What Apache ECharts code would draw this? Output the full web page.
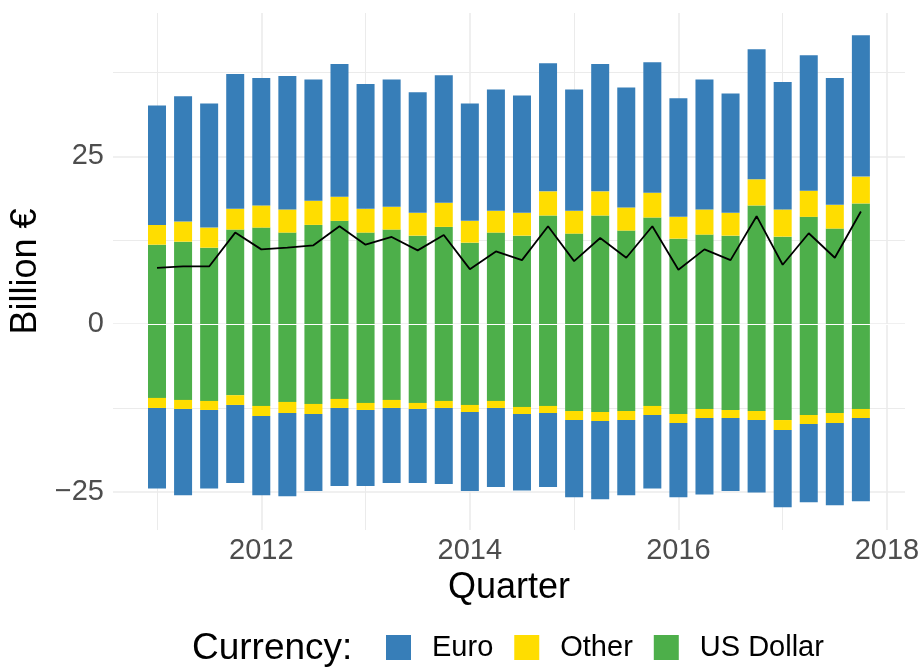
<!DOCTYPE html>
<html>
<head>
<meta charset="utf-8">
<script src="https://cdn.jsdelivr.net/npm/echarts@6/dist/echarts.min.js"></script>
<style>
  html, body { margin: 0; padding: 0; background: #fff; }
  #chart { width: 918px; height: 668px; }
</style>
</head>
<body>
<div id="chart"></div>
<script>
// quarters as decimal years
const quarters = [2011, 2011.25, 2011.5, 2011.75, 2012, 2012.25, 2012.5, 2012.75,
  2013, 2013.25, 2013.5, 2013.75, 2014, 2014.25, 2014.5, 2014.75,
  2015, 2015.25, 2015.5, 2015.75, 2016, 2016.25, 2016.5, 2016.75,
  2017, 2017.25, 2017.5, 2017.75];

// positive side (billion €)
const usdPos = [11.85, 12.3, 11.4, 14.1, 14.4, 13.65, 14.8, 15.4, 13.65, 14.1, 13.2, 14.5,
  12.15, 13.65, 13.2, 16.2, 13.5, 16.2, 13.95, 15.9, 12.75, 13.35, 13.2, 17.7,
  13.05, 16.0, 14.25, 18.0];
const otherPos = [2.95, 3.0, 3.0, 3.1, 3.3, 3.45, 3.6, 3.6, 3.55, 3.4, 3.4, 3.6,
  3.25, 3.25, 3.4, 3.6, 3.4, 3.6, 3.45, 3.7, 3.25, 3.75, 3.4, 3.9,
  4.05, 3.9, 3.55, 4.0];
const euroPos = [17.8, 18.7, 18.5, 20.1, 19.0, 19.9, 18.1, 19.8, 18.6, 19.0, 18.0, 19.0,
  17.5, 18.1, 17.5, 19.1, 18.1, 19.0, 17.9, 19.45, 17.7, 19.4, 17.8, 19.4,
  19.0, 20.2, 18.9, 21.1];

// negative side (billion €)
const usdNeg = [-11.0, -11.3, -11.45, -10.6, -12.2, -11.6, -11.9, -11.15, -11.75, -11.3, -11.75, -11.45,
  -12.05, -11.45, -12.35, -12.2, -12.95, -13.1, -12.95, -12.2, -13.4, -12.65, -12.8, -12.95,
  -14.3, -13.55, -13.25, -12.65];
const otherNeg = [-1.5, -1.35, -1.35, -1.45, -1.5, -1.65, -1.5, -1.35, -1.05, -1.2, -0.9, -1.05,
  -1.05, -1.05, -1.05, -1.05, -1.35, -1.35, -1.35, -1.35, -1.35, -1.35, -1.2, -1.35,
  -1.5, -1.35, -1.5, -1.35];
const euroNeg = [-12.0, -12.85, -11.7, -11.65, -11.8, -12.4, -11.5, -11.65, -11.35, -11.2, -11.05, -11.35,
  -11.8, -11.8, -11.4, -11.05, -11.5, -11.65, -11.2, -10.95, -11.05, -11.4, -10.9, -10.8,
  -11.5, -11.65, -12.25, -12.4];

// net position line
const netLine = [8.4, 8.6, 8.6, 13.65, 11.15, 11.4, 11.75, 14.6, 11.85, 13.0, 11.0, 13.3,
  8.2, 10.85, 9.55, 14.6, 9.4, 12.85, 9.9, 14.6, 8.1, 11.15, 9.55, 16.1,
  8.85, 13.55, 9.9, 16.8];

const xMajor = [2012, 2014, 2016, 2018];
const xMinor = [2011, 2013, 2015, 2017];
const yMajor = [-25, 0, 25];
const yMinor = [-12.5, 12.5, 37.5];

const colors = { euro: '#377EB8', other: '#FFDD00', usd: '#4DAF4A' };
const font = '"Liberation Sans", Arial, Helvetica, sans-serif';

// value first so the stack runs on y (x is a value axis too)
const barData = (vals) => quarters.map((q, i) => [vals[i], q]);

const barSeries = (name, vals, color) => ({
  name: name,
  type: 'bar',
  stack: 'total',
  barWidth: 18,
  xAxisIndex: 0,
  yAxisIndex: 0,
  encode: { x: 1, y: 0 },
  itemStyle: { color: color },
  emphasis: { disabled: true },
  data: barData(vals)
});

const chart = echarts.init(document.getElementById('chart'), null, { renderer: 'canvas' });

const xRange = { min: 2010.578, max: 2018.173 };
const yRange = { min: -30.7, max: 46.4 };

const option = {
  animation: false,
  textStyle: { fontFamily: font },
  title: {
    text: 'Currency:',
    left: 192,
    top: 630,
    padding: 0,
    textStyle: { fontSize: 37, fontWeight: 'normal', color: '#000', fontFamily: font }
  },
  legend: {
    data: ['Euro', 'Other', 'US Dollar'],
    left: 386,
    top: 633,
    padding: 0,
    itemWidth: 25,
    itemHeight: 25,
    itemGap: 21,
    icon: 'rect',
    textStyle: { fontSize: 29, color: '#000', fontFamily: font, padding: [0, 0, 0, 16] }
  },
  grid: { left: 113, right: 13, top: 13, bottom: 138, containLabel: false, outerBoundsMode: 'none' },
  xAxis: [{
    type: 'value',
    min: xRange.min,
    max: xRange.max,
    name: 'Quarter',
    nameLocation: 'middle',
    nameGap: 37,
    nameTextStyle: { fontSize: 36, color: '#000', fontFamily: font },
    axisLine: { show: false },
    axisTick: { show: false, customValues: xMajor },
    axisLabel: {
      customValues: xMajor,
      fontSize: 29,
      color: '#4D4D4D',
      margin: 6,
      fontFamily: font,
      formatter: (v) => String(v)
    },
    splitLine: { show: true, lineStyle: { color: '#EBEBEB', width: 1.6 } }
  }, {
    type: 'value',
    min: xRange.min,
    max: xRange.max,
    axisLine: { show: false },
    axisTick: { show: false, customValues: xMinor },
    axisLabel: { show: false, customValues: xMinor },
    splitLine: { show: true, lineStyle: { color: '#EBEBEB', width: 1 } }
  }],
  yAxis: [{
    type: 'value',
    min: yRange.min,
    max: yRange.max,
    name: 'Billion €',
    nameLocation: 'middle',
    nameGap: 61,
    nameRotate: 90,
    nameTextStyle: { fontSize: 36, color: '#000', fontFamily: font },
    axisLine: { show: false },
    axisTick: { show: false, customValues: yMajor },
    axisLabel: {
      customValues: yMajor,
      fontSize: 29,
      color: '#4D4D4D',
      margin: 9,
      fontFamily: font,
      formatter: (v) => (v < 0 ? '\u2212' + Math.abs(v) : String(v))
    },
    splitLine: { show: true, lineStyle: { color: '#EBEBEB', width: 1.6 } }
  }, {
    type: 'value',
    min: yRange.min,
    max: yRange.max,
    axisLine: { show: false },
    axisTick: { show: false, customValues: yMinor },
    axisLabel: { show: false, customValues: yMinor },
    splitLine: { show: true, lineStyle: { color: '#EBEBEB', width: 1 } }
  }],
  series: [
    barSeries('US Dollar', usdPos, colors.usd),
    barSeries('US Dollar', usdNeg, colors.usd),
    barSeries('Other', otherPos, colors.other),
    barSeries('Other', otherNeg, colors.other),
    barSeries('Euro', euroPos, colors.euro),
    Object.assign(barSeries('Euro', euroNeg, colors.euro), {
      markLine: {
        silent: true,
        symbol: 'none',
        label: { show: false },
        lineStyle: { color: '#FFFFFF', width: 1, type: 'solid' },
        data: [{ yAxis: 0 }]
      }
    }),
    {
      name: 'Net',
      type: 'line',
      xAxisIndex: 0,
      yAxisIndex: 0,
      showSymbol: false,
      symbol: 'none',
      z: 5,
      lineStyle: { color: '#000', width: 1.8 },
      emphasis: { disabled: true },
      data: quarters.map((q, i) => [q, netLine[i]])
    }
  ]
};

chart.setOption(option);
</script>
</body>
</html>
